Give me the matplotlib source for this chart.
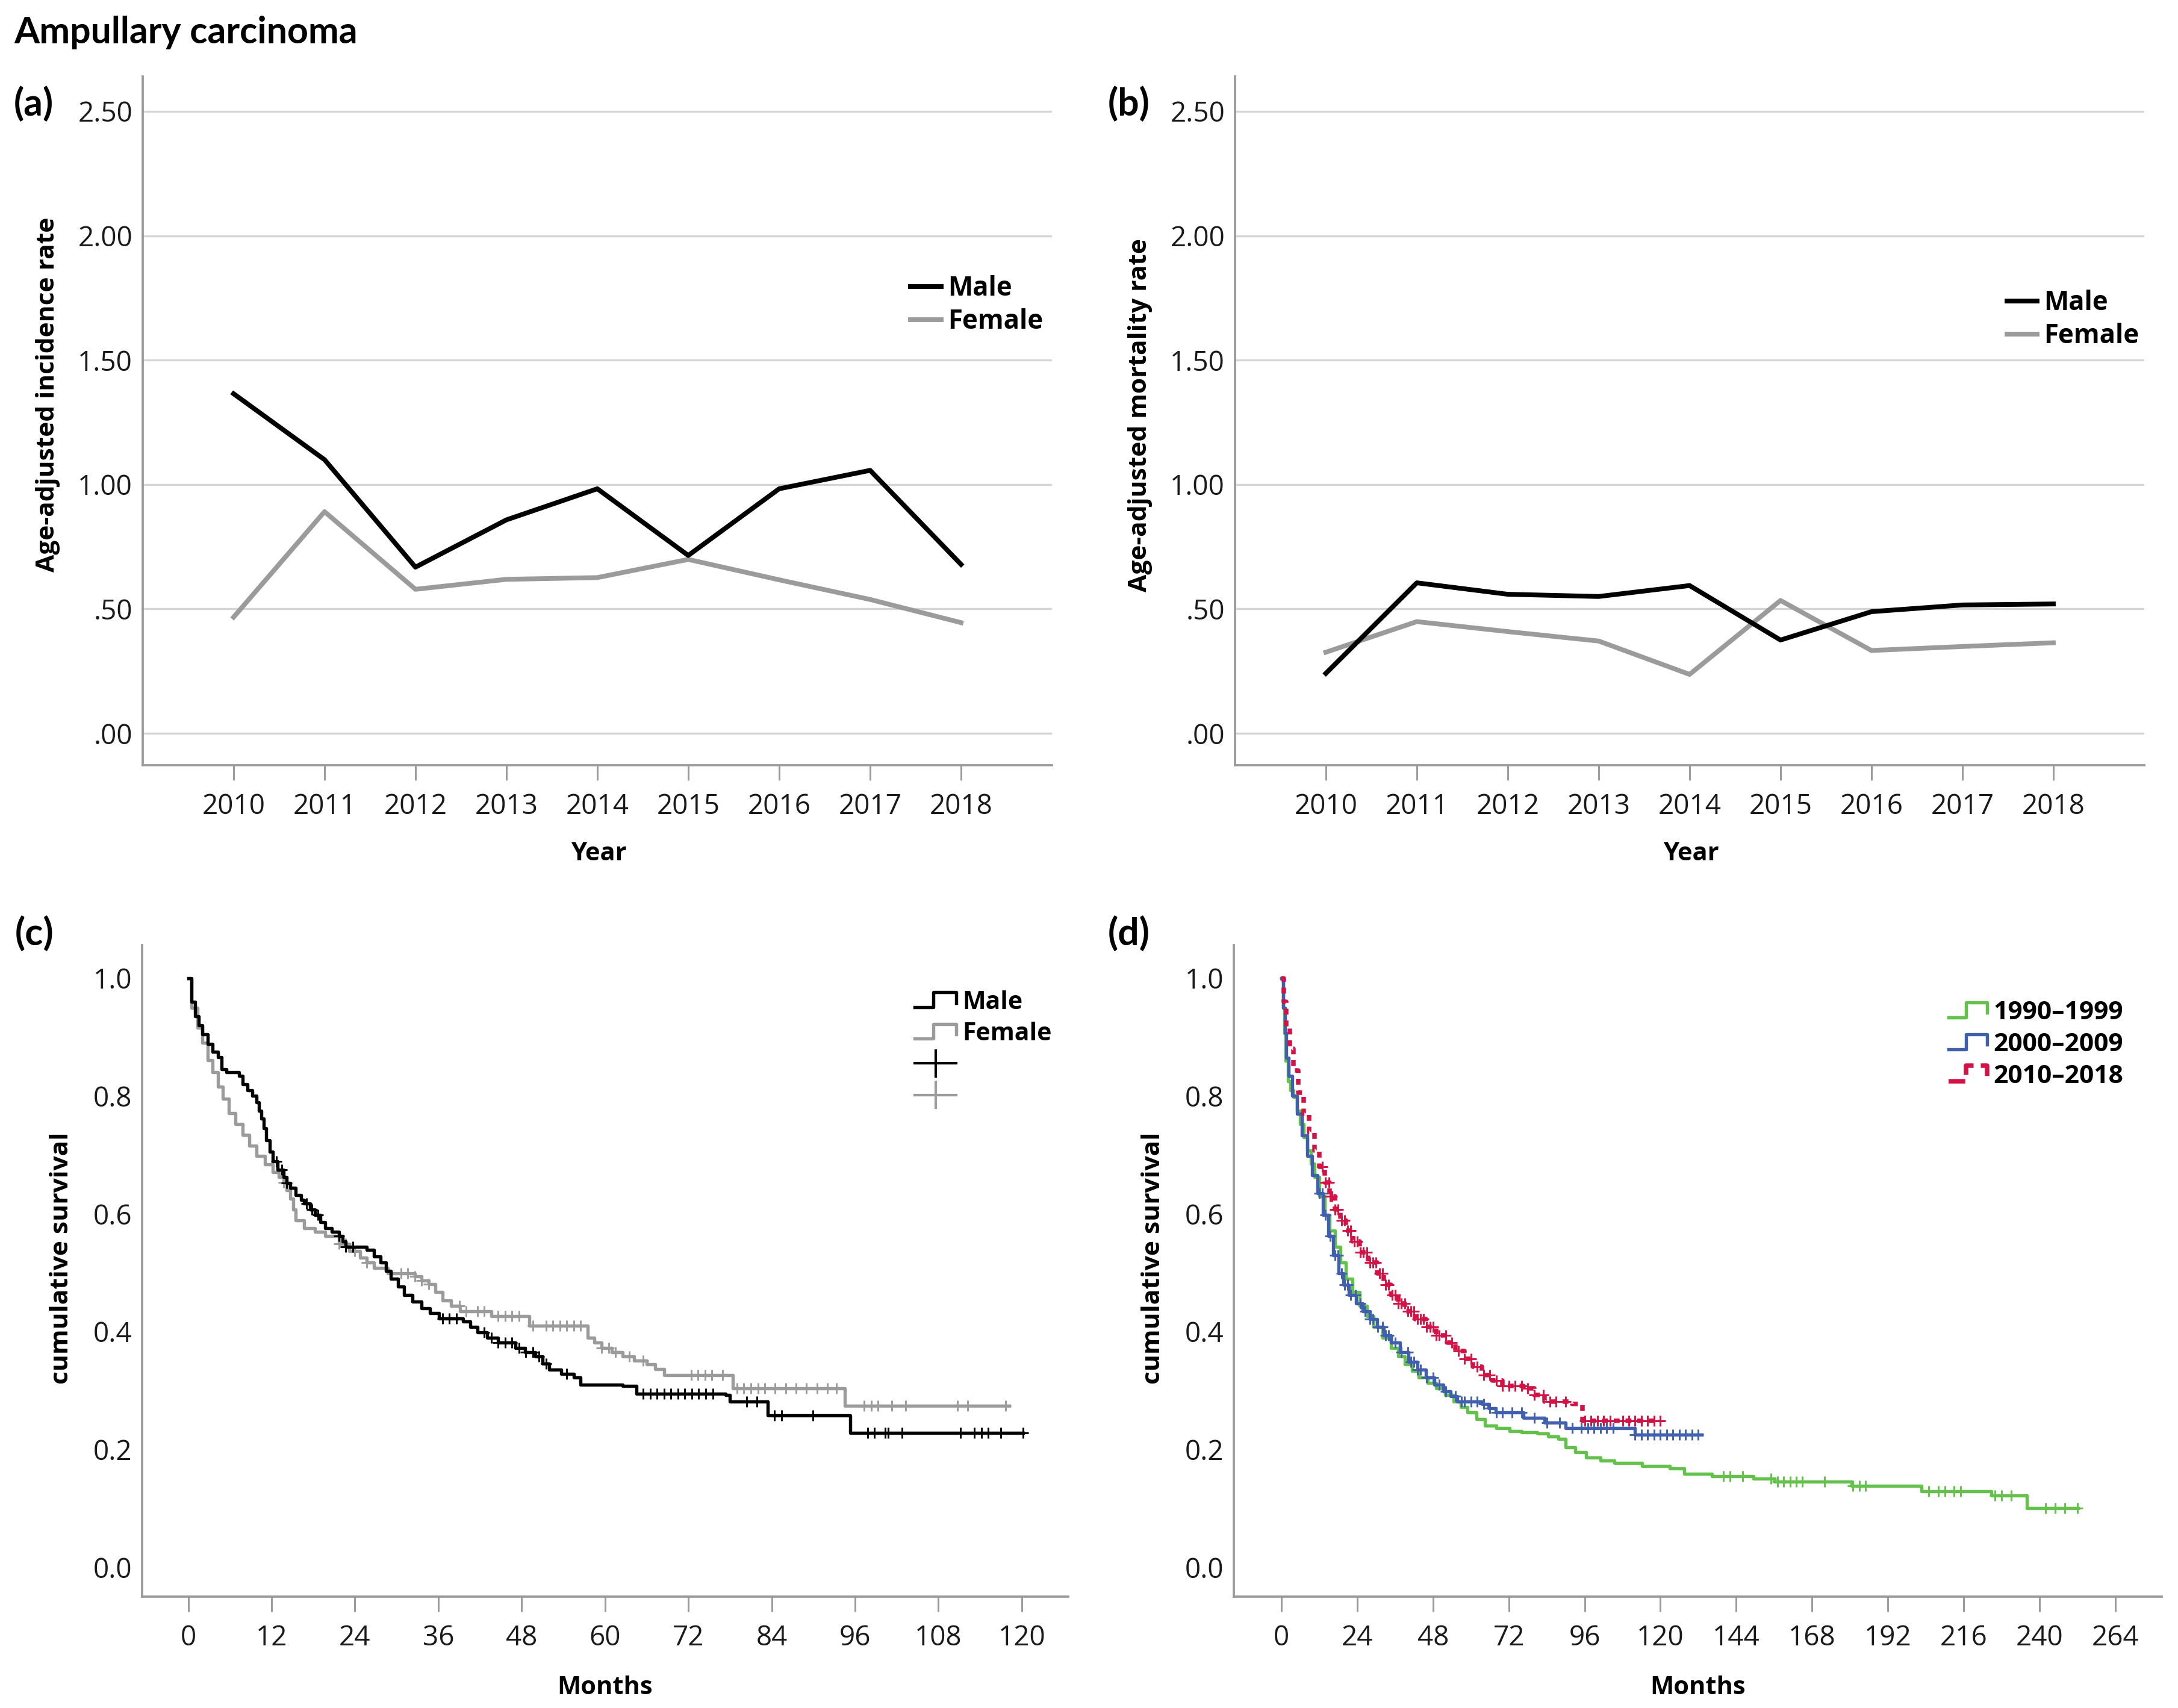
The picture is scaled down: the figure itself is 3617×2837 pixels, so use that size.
# Ampullary carcinoma: incidence / mortality trends and Kaplan-Meier curves
import numpy as np
import matplotlib.pyplot as plt
from matplotlib.lines import Line2D
from matplotlib.legend_handler import HandlerBase

# ---- data ---------------------------------------------------------------
years = [2010, 2011, 2012, 2013, 2014, 2015, 2016, 2017, 2018]
inc_male = [1.365, 1.10, 0.668, 0.858, 0.983, 0.715, 0.983, 1.057, 0.679]
inc_female = [0.467, 0.891, 0.579, 0.619, 0.626, 0.699, 0.617, 0.538, 0.445]
mort_male = [0.241, 0.605, 0.559, 0.550, 0.594, 0.375, 0.489, 0.516, 0.520]
mort_female = [0.326, 0.449, 0.409, 0.371, 0.237, 0.534, 0.333, 0.349, 0.364]

# survival by sex (months, cumulative survival)
km_male_t = [0, 0.5, 1.0, 1.5, 2.0, 2.8, 3.5, 4.3, 4.8, 5.5, 7.3, 7.8, 8.5, 9.2, 9.8,
             10.2, 10.5, 10.9, 11.2, 11.7, 12.2, 12.9, 13.7, 14.2, 14.7, 15.5, 16.2,
             16.7, 17.5, 18.2, 19.0, 19.7, 20.7, 21.7, 22.2, 22.7, 25.7, 26.7, 27.7,
             28.5, 29.2, 30.2, 31.1, 32.3, 33.6, 34.8, 36.1, 39.6, 40.6, 41.6, 43.0,
             44.6, 47.1, 48.5, 50.0, 51.0, 52.0, 53.7, 55.5, 56.5, 62.5, 64.5, 77.4,
             78.0, 83.4, 95.3, 120.2]
km_male_s = [1.0, 0.96, 0.935, 0.92, 0.905, 0.888, 0.875, 0.866, 0.845, 0.84, 0.834,
             0.82, 0.81, 0.80, 0.789, 0.775, 0.762, 0.745, 0.725, 0.705, 0.689, 0.675,
             0.662, 0.652, 0.644, 0.632, 0.624, 0.617, 0.607, 0.598, 0.586, 0.576,
             0.569, 0.562, 0.553, 0.544, 0.539, 0.528, 0.517, 0.503, 0.490, 0.476,
             0.462, 0.451, 0.440, 0.431, 0.422, 0.417, 0.408, 0.399, 0.390, 0.381,
             0.372, 0.365, 0.358, 0.346, 0.335, 0.328, 0.322, 0.310, 0.308, 0.295,
             0.292, 0.281, 0.258, 0.228, 0.228]
km_male_cens = [12.7, 13.5, 14.2, 17.0, 17.8, 18.7, 21.7, 22.7, 23.7, 36.6, 37.6, 38.6,
                42.6, 43.6, 44.6, 45.6, 46.6, 47.6, 48.6, 49.6, 50.5, 51.5, 54.5, 65.5,
                66.5, 67.5, 68.5, 69.5, 70.5, 71.5, 72.5, 73.5, 74.5, 75.5, 80.4, 81.9,
                84.4, 85.4, 89.9, 97.8, 98.8, 100.3, 100.8, 102.8, 111.2, 113.2, 114.2,
                115.2, 117.0, 120.2]

km_female_t = [0, 0.5, 1.3, 2.0, 2.8, 3.5, 4.3, 5.0, 5.8, 6.8, 7.8, 8.8, 9.8, 11.0,
               12.2, 13.0, 13.7, 14.2, 14.7, 15.1, 15.5, 16.7, 18.2, 19.7, 21.7, 23.2,
               24.7, 25.7, 26.7, 28.7, 32.6, 33.6, 34.6, 35.6, 36.6, 37.8, 39.1, 43.6,
               49.1, 57.5, 58.5, 59.5, 61.0, 62.5, 64.2, 66.0, 67.2, 68.5, 78.4, 94.5,
               118.2]
km_female_s = [1.0, 0.95, 0.916, 0.89, 0.861, 0.84, 0.816, 0.795, 0.771, 0.752, 0.734,
               0.716, 0.698, 0.684, 0.671, 0.662, 0.653, 0.64, 0.626, 0.607, 0.589,
               0.576, 0.569, 0.562, 0.549, 0.537, 0.526, 0.517, 0.508, 0.499, 0.494,
               0.487, 0.481, 0.467, 0.453, 0.444, 0.435, 0.426, 0.410, 0.390, 0.381,
               0.372, 0.365, 0.358, 0.351, 0.345, 0.336, 0.326, 0.304, 0.274, 0.274]
km_female_cens = [13.7, 21.7, 22.7, 24.0, 25.7, 30.6, 31.6, 32.6, 33.6, 34.6, 39.0, 40.0,
                  41.6, 42.6, 44.6, 45.6, 46.6, 47.6, 49.6, 51.5, 52.5, 53.5, 54.5, 55.5,
                  56.5, 59.5, 60.5, 61.5, 63.5, 65.5, 72.4, 73.4, 74.4, 75.4, 76.9, 79.0,
                  80.0, 81.0, 82.0, 83.0, 84.5, 86.0, 87.5, 89.0, 90.5, 92.0, 93.3, 97.3,
                  98.3, 99.3, 101.3, 103.3, 110.7, 112.2, 117.7]

# survival by period of diagnosis
km_90_t = [0, 0.5, 0.9, 1.4, 2.0, 2.8, 3.8, 4.9, 6.0, 7.1, 8.2, 9.3, 10.4, 12.0, 13.7,
           15.3, 17.0, 18.6, 20.3, 22.5, 24.7, 27.0, 29.2, 32.0, 34.7, 37.0, 39.1, 41.3,
           43.5, 46.3, 49.0, 51.8, 54.6, 56.8, 59.0, 61.7, 64.5, 68.0, 72.2, 76.0, 81.0,
           84.5, 87.7, 89.9, 93.0, 96.5, 101.0, 105.4, 114.2, 123.0, 127.5, 136.3,
           149.5, 156.2, 180.5, 202.6, 224.7, 236.1, 252.3]
km_90_s = [1.0, 0.95, 0.907, 0.86, 0.825, 0.81, 0.798, 0.775, 0.752, 0.73, 0.707, 0.685,
           0.662, 0.63, 0.598, 0.571, 0.544, 0.517, 0.490, 0.467, 0.444, 0.426, 0.408,
           0.39, 0.372, 0.358, 0.345, 0.333, 0.322, 0.313, 0.304, 0.292, 0.281, 0.272,
           0.263, 0.252, 0.240, 0.236, 0.231, 0.229, 0.227, 0.222, 0.218, 0.204, 0.195,
           0.186, 0.181, 0.177, 0.172, 0.168, 0.159, 0.154, 0.150, 0.145, 0.138, 0.129,
           0.122, 0.100, 0.100]
km_90_cens = [140, 142, 146, 155, 157, 159, 161, 163, 165, 172, 181, 183, 185, 205, 208,
              210, 213, 215, 226, 228, 231, 242, 245, 248, 252]

km_00_t = [0, 0.5, 1.1, 1.6, 2.2, 3.5, 4.9, 6.5, 8.2, 9.8, 11.5, 13.1, 14.8, 16.4, 18.1,
           19.7, 21.4, 23.6, 25.8, 28.0, 30.3, 32.5, 34.7, 37.5, 40.2, 43.0, 45.7, 48.5,
           51.2, 53.5, 55.7, 63.4, 65.6, 67.8, 76.7, 83.3, 89.9, 112.0, 133.0]
km_00_s = [1.0, 0.95, 0.907, 0.865, 0.834, 0.80, 0.770, 0.733, 0.698, 0.666, 0.635,
           0.598, 0.562, 0.53, 0.499, 0.48, 0.462, 0.448, 0.435, 0.421, 0.408, 0.394,
           0.381, 0.365, 0.349, 0.335, 0.322, 0.31, 0.299, 0.29, 0.281, 0.277, 0.27,
           0.263, 0.254, 0.245, 0.236, 0.225, 0.225]
km_00_cens = [12, 13, 14, 15.5, 17, 18, 19, 20, 21, 22, 23.5, 25, 26.5, 28, 29, 30.5, 32,
              33, 34, 36, 38, 40, 41, 42, 43, 44, 46, 48, 50, 52, 55, 57, 58, 60, 62, 64,
              66, 68, 70, 73, 76, 80, 84, 88, 92, 95, 97, 99, 101, 103, 105, 112, 114, 116,
              118, 120, 122, 124, 126, 128, 130, 132]

km_10_t = [0, 0.7, 1.5, 2.6, 3.8, 5.4, 7.1, 8.7, 10.4, 12.0, 13.7, 15.3, 17.0, 18.6,
           20.3, 22.5, 24.7, 27.5, 30.3, 32.5, 34.7, 36.9, 39.1, 42.4, 45.7, 49.0, 52.4,
           55.1, 57.9, 60.6, 63.4, 66.7, 70.0, 76.7, 80.0, 83.3, 92.1, 95.4, 119.7]
km_10_s = [1.0, 0.96, 0.916, 0.88, 0.843, 0.806, 0.770, 0.738, 0.707, 0.68, 0.653, 0.63,
           0.607, 0.589, 0.571, 0.553, 0.535, 0.517, 0.499, 0.48, 0.462, 0.448, 0.435,
           0.421, 0.408, 0.394, 0.381, 0.367, 0.354, 0.34, 0.326, 0.317, 0.308, 0.304,
           0.292, 0.281, 0.277, 0.249, 0.249]
km_10_cens = [13, 14, 15, 15.5, 16, 17, 18, 19, 20, 21, 22, 23, 24, 25, 26, 27, 28, 29,
              30, 31, 32, 33, 34, 35, 36, 37, 38, 39, 40, 41, 42, 43, 44, 45, 46, 47, 48,
              49, 50, 52, 54, 56, 58, 60, 62, 64, 66, 68, 70, 72, 74, 76, 78, 80, 83, 85,
              87, 90, 96, 98, 100, 102, 104, 108, 110, 112, 114, 116, 118, 120]

# ---- style ---------------------------------------------------------------
spine_col = '#9a9a9a'
grid_col = '#d4d4d4'
female_col = '#9b9b9b'
green = '#63c14c'
blue = '#4060ad'
red = '#d31245'
tick_font = 'Open Sans'
label_font = 'Open Sans'
head_font = 'Lato'
km_lw = 1.3


class StepHandler(HandlerBase):
    # SPSS-style step glyph for the survival legends
    def create_artists(self, legend, orig_handle, xdescent, ydescent,
                       width, height, fontsize, trans):
        x0, y0 = -xdescent, -ydescent
        xs = [x0, x0 + 0.45 * width, x0 + 0.45 * width, x0 + width, x0 + width]
        ys = [y0 + 0.1 * height, y0 + 0.1 * height, y0 + 0.95 * height,
              y0 + 0.95 * height, y0 + 0.35 * height]
        ln = Line2D(xs, ys, color=orig_handle.get_color(),
                    lw=orig_handle.get_linewidth(),
                    linestyle=orig_handle.get_linestyle(), transform=trans)
        return [ln]


class CensorHandler(HandlerBase):
    # wide cross used for the censoring entries
    def create_artists(self, legend, orig_handle, xdescent, ydescent,
                       width, height, fontsize, trans):
        x0, y0 = -xdescent, -ydescent
        h = Line2D([x0, x0 + width], [y0 + 0.5 * height] * 2,
                   color=orig_handle.get_color(), lw=1.0, transform=trans)
        v = Line2D([x0 + 0.5 * width] * 2, [y0 - 0.25 * height, y0 + 1.25 * height],
                   color=orig_handle.get_color(), lw=1.0, transform=trans)
        return [h, v]


def style_axes(ax):
    for side in ['top', 'right']:
        ax.spines[side].set_visible(False)
    for side in ['left', 'bottom']:
        ax.spines[side].set_color(spine_col)
        ax.spines[side].set_linewidth(0.9)
    ax.tick_params(axis='y', length=0, pad=4, labelsize=11)
    ax.tick_params(axis='x', length=6, width=0.7, color=spine_col, pad=5, labelsize=11)
    for lab in ax.get_xticklabels() + ax.get_yticklabels():
        lab.set_family(tick_font)
        lab.set_color('#1a1a1a')


def censor_y(t, s, ct):
    idx = np.searchsorted(t, ct, side='right') - 1
    return np.array(s)[idx]


fig = plt.figure(figsize=(3617 / 300, 2837 / 300), dpi=300)
ax_a = fig.add_axes([0.0655, 0.552, 0.4175, 0.4032])
ax_b = fig.add_axes([0.567, 0.552, 0.4175, 0.4032])
ax_c = fig.add_axes([0.0652, 0.0652, 0.4253, 0.3814])
ax_d = fig.add_axes([0.5665, 0.0652, 0.426, 0.3814])

rate_ticks = [0, 0.5, 1.0, 1.5, 2.0, 2.5]
rate_labels = ['.00', '.50', '1.00', '1.50', '2.00', '2.50']

# ---- (a) and (b) rate trends --------------------------------------------
for ax, male, female, ylab, ly in [(ax_a, inc_male, inc_female, 'Age-adjusted incidence rate', 0.538),
                                   (ax_b, mort_male, mort_female, 'Age-adjusted mortality rate', 0.508)]:
    for yv in rate_ticks:
        ax.axhline(yv, color=grid_col, lw=0.8, zorder=0)
    ax.plot(years, male, color='black', lw=1.9, label='Male', zorder=3)
    ax.plot(years, female, color=female_col, lw=1.9, label='Female', zorder=2)
    ax.set_xlim(2009, 2019)
    ax.set_ylim(-0.128, 2.64)
    ax.set_xticks(years)
    ax.set_yticks(rate_ticks)
    ax.set_yticklabels(rate_labels)
    style_axes(ax)
    ax.set_xlabel('Year', fontsize=10, fontweight='bold', family=label_font, va='center')
    ax.xaxis.set_label_coords(0.502, -0.129)
    ax.set_ylabel(ylab, fontsize=10.2, fontweight='bold', family=label_font, va='center')
    ax.yaxis.set_label_coords(-0.104, ly)

leg_kw = dict(bbox_transform=fig.transFigure, frameon=False, borderpad=0,
              handletextpad=0.25, loc='upper left')
ax_a.legend(bbox_to_anchor=(0.4121, 0.8465), handlelength=1.15, labelspacing=0.22,
            prop={'family': label_font, 'weight': 'bold', 'size': 10.5}, **leg_kw)
ax_b.legend(bbox_to_anchor=(0.9154, 0.838), handlelength=1.15, labelspacing=0.22,
            prop={'family': label_font, 'weight': 'bold', 'size': 10.5}, **leg_kw)

# ---- (c) survival by sex ------------------------------------------------
ax_c.step(km_male_t, km_male_s, where='post', color='black', lw=km_lw, zorder=3)
ax_c.step(km_female_t, km_female_s, where='post', color=female_col, lw=km_lw, zorder=2)
ax_c.plot(km_male_cens, censor_y(km_male_t, km_male_s, km_male_cens), '+',
          color='black', ms=4.5, mew=0.7, zorder=3)
ax_c.plot(km_female_cens, censor_y(km_female_t, km_female_s, km_female_cens), '+',
          color=female_col, ms=4.5, mew=0.7, zorder=2)
ax_c.set_xlim(-6.66, 126.7)
ax_c.set_xticks(np.arange(0, 121, 12))

# ---- (d) survival by period ---------------------------------------------
red_ls = (0, (1.3, 1.3))
ax_d.step(km_90_t, km_90_s, where='post', color=green, lw=km_lw, zorder=2)
ax_d.step(km_00_t, km_00_s, where='post', color=blue, lw=km_lw, zorder=3)
ax_d.step(km_10_t, km_10_s, where='post', color=red, lw=1.8, linestyle=red_ls, zorder=4)
ax_d.plot(km_90_cens, censor_y(km_90_t, km_90_s, km_90_cens), '+',
          color=green, ms=4.5, mew=0.7, zorder=2)
ax_d.plot(km_00_cens, censor_y(km_00_t, km_00_s, km_00_cens), '+',
          color=blue, ms=4.5, mew=0.7, zorder=3)
ax_d.plot(km_10_cens, censor_y(km_10_t, km_10_s, km_10_cens), '+',
          color=red, ms=4.5, mew=0.7, zorder=4)
ax_d.set_xlim(-15.06, 278.7)
ax_d.set_xticks(np.arange(0, 265, 24))

for ax in [ax_c, ax_d]:
    ax.set_ylim(-0.05, 1.056)
    ax.set_yticks([0, 0.2, 0.4, 0.6, 0.8, 1.0])
    ax.set_yticklabels(['0.0', '0.2', '0.4', '0.6', '0.8', '1.0'])
    style_axes(ax)
    ax.set_xlabel('Months', fontsize=10, fontweight='bold', family=label_font, va='center')
    ax.xaxis.set_label_coords(0.5, -0.1396)
    ax.set_ylabel('cumulative survival', fontsize=10.2, fontweight='bold',
                  family=label_font, va='center')
    ax.yaxis.set_label_coords(-0.0865, 0.52)

h_m = Line2D([], [], color='black', lw=km_lw)
h_f = Line2D([], [], color=female_col, lw=km_lw)
c_m = Line2D([], [], color='black')
c_f = Line2D([], [], color=female_col)
ax_c.legend([h_m, h_f, c_m, c_f], ['Male', 'Female', '', ''],
            handler_map={h_m: StepHandler(), h_f: StepHandler(),
                         c_m: CensorHandler(), c_f: CensorHandler()},
            bbox_to_anchor=(0.4143, 0.4275), handlelength=1.7, labelspacing=0.28,
            prop={'family': label_font, 'weight': 'bold', 'size': 9.8}, **leg_kw)

h_90 = Line2D([], [], color=green, lw=km_lw)
h_00 = Line2D([], [], color=blue, lw=km_lw)
h_10 = Line2D([], [], color=red, lw=1.8, linestyle=red_ls)
ax_d.legend([h_90, h_00, h_10], ['1990\u20131999', '2000\u20132009', '2010\u20132018'],
            handler_map={h_90: StepHandler(), h_00: StepHandler(), h_10: StepHandler()},
            bbox_to_anchor=(0.8889, 0.4217), handlelength=1.5, labelspacing=0.28,
            prop={'family': label_font, 'weight': 'bold', 'size': 10.2}, **leg_kw)

# ---- headings ------------------------------------------------------------
fig.text(23 / 3617, 1 - 72 / 2837, 'Ampullary carcinoma', fontsize=14.6,
         fontweight='bold', family=head_font, va='baseline')
for lab, x, y in [('(a)', 23, 173), ('(b)', 1840, 173), ('(c)', 25, 1551), ('(d)', 1840, 1551)]:
    fig.text(x / 3617, 1 - y / 2837, lab, fontsize=15, fontweight='bold',
             family=head_font, va='center')

fig.savefig('out.png', dpi=300)
